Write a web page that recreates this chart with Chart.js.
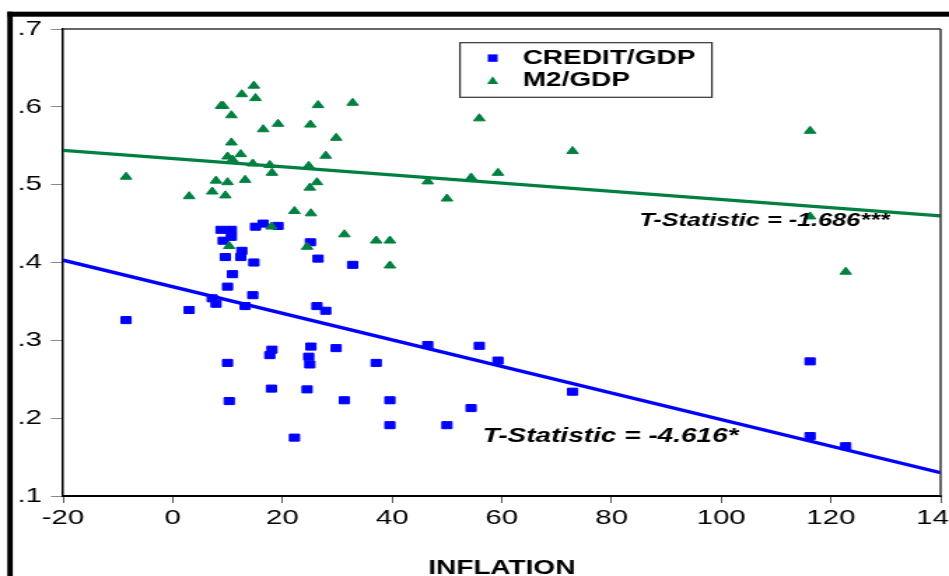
<!DOCTYPE html>
<html>
<head>
<meta charset="utf-8">
<title>Inflation vs Credit/GDP and M2/GDP</title>
<script src="https://cdn.jsdelivr.net/npm/chart.js@4.4.0/dist/chart.umd.min.js"></script>
<style>
  html, body { margin: 0; padding: 0; background: #fff; overflow: hidden; }
  /* the original graph is stretched sideways, so draw narrow and widen */
  #wrap { width: 678px; height: 576px; transform: scaleX(1.39971); transform-origin: 0 0; }
</style>
</head>
<body>
<div id="wrap"><canvas id="scatterChart" width="678" height="576"></canvas></div>
<script>
// one inflation value per observation, both ratios share it
const inflation = [-8.5, 3.0, 7.2, 7.9, 13.2, 10.0, 10.0, 10.9, 14.6, 9.6, 12.4, 12.6, 14.8, 9.2, 8.8, 10.7,
  10.7, 15.1, 16.5, 19.2, 25.1, 26.5, 32.8, 26.3, 27.9, 18.1, 17.7, 25.2, 24.8, 25.0, 29.8, 37.1,
  18.0, 24.5, 10.3, 31.3, 22.2, 39.6, 39.6, 50.0, 54.4, 46.5, 55.9, 59.3, 72.9, 116.2, 116.2, 122.7];
const creditGdp = [0.326, 0.339, 0.354, 0.347, 0.344, 0.369, 0.271, 0.385, 0.358, 0.407, 0.407, 0.415, 0.400, 0.428, 0.442, 0.442,
  0.433, 0.446, 0.450, 0.447, 0.426, 0.405, 0.397, 0.344, 0.338, 0.288, 0.281, 0.292, 0.279, 0.269, 0.290, 0.271,
  0.238, 0.237, 0.222, 0.223, 0.175, 0.223, 0.191, 0.191, 0.213, 0.294, 0.293, 0.274, 0.234, 0.273, 0.177, 0.164];
const m2Gdp = [0.510, 0.485, 0.491, 0.505, 0.506, 0.503, 0.536, 0.532, 0.527, 0.486, 0.539, 0.616, 0.627, 0.601, 0.601, 0.589,
  0.554, 0.611, 0.571, 0.578, 0.577, 0.602, 0.605, 0.503, 0.537, 0.515, 0.525, 0.463, 0.524, 0.496, 0.560, 0.428,
  0.446, 0.420, 0.421, 0.436, 0.466, 0.428, 0.396, 0.482, 0.509, 0.504, 0.585, 0.515, 0.543, 0.569, 0.459, 0.388];

// fitted lines, read at both ends of the x range
const fitX = [-20, 140];
const creditFit = [0.403, 0.130];
const m2Fit = [0.544, 0.460];

const xTicks = [-20, 0, 20, 40, 60, 80, 100, 120, 140];
const yTicks = [0.1, 0.2, 0.3, 0.4, 0.5, 0.6, 0.7];
const seriesLabels = ['CREDIT/GDP', 'M2/GDP'];
const tStatLabels = ['T-Statistic = -4.616*', 'T-Statistic = -1.686***'];

const BLUE = '#0000ff';
const GREEN = '#008040';
const FONT = '"Liberation Sans", Arial, sans-serif';

const toPoints = (xs, ys) => xs.map((x, i) => ({ x: x, y: ys[i] }));

// where the t-statistics sit, in data units
const tStatPos = [{ x: 56.5, y: 0.177, size: 20 }, { x: 85.1, y: 0.453, size: 18 }];

const framePlugin = {
  id: 'frame',
  beforeDraw(chart) {
    const ctx = chart.ctx;
    ctx.save();
    ctx.fillStyle = '#fff';
    ctx.fillRect(0, 0, chart.width, chart.height);
    ctx.fillStyle = '#000';
    ctx.fillRect(5.2, 11.7, chart.width, 5);
    ctx.fillRect(5.2, 11.7, 3.9, chart.height);
    ctx.restore();
  },
  afterDraw(chart) {
    const ctx = chart.ctx;
    const a = chart.chartArea;
    const x = chart.scales.x;
    const y = chart.scales.y;
    ctx.save();

    // top and right edge of the plot box
    ctx.strokeStyle = '#333';
    ctx.lineWidth = 1.3;
    ctx.beginPath();
    ctx.moveTo(a.left, a.top);
    ctx.lineTo(a.right, a.top);
    ctx.stroke();
    ctx.lineWidth = 1.5;
    ctx.beginPath();
    ctx.moveTo(a.right, a.top);
    ctx.lineTo(a.right, a.bottom);
    ctx.stroke();

    // legend
    ctx.lineWidth = 1.2;
    ctx.strokeRect(328.6, 42.7, 180, 54.6);
    ctx.fillStyle = BLUE;
    ctx.fillRect(348.5, 54.4, 7, 7.4);
    ctx.fillStyle = GREEN;
    ctx.beginPath();
    ctx.moveTo(352, 76.2);
    ctx.lineTo(356, 84);
    ctx.lineTo(348, 84);
    ctx.closePath();
    ctx.fill();
    ctx.fillStyle = '#000';
    ctx.font = 'bold 20px ' + FONT;
    ctx.textBaseline = 'middle';
    ctx.textAlign = 'left';
    ctx.fillText(chart.data.datasets[0].label, 373.4, 58.5);
    ctx.fillText(chart.data.datasets[1].label, 373.4, 80.5);

    // t-statistics
    tStatLabels.forEach((t, i) => {
      const p = tStatPos[i];
      ctx.font = 'italic bold ' + p.size + 'px ' + FONT;
      ctx.fillText(t, x.getPixelForValue(p.x), y.getPixelForValue(p.y));
    });

    // axis title
    ctx.font = 'bold 20px ' + FONT;
    ctx.textAlign = 'center';
    ctx.fillText('INFLATION', (a.left + a.right) / 2, 568);
    ctx.restore();
  }
};

const ctx = document.getElementById('scatterChart').getContext('2d');
const chart = new Chart(ctx, {
  type: 'scatter',
  data: {
    datasets: [
      {
        label: seriesLabels[0],
        data: toPoints(inflation, creditGdp),
        pointStyle: 'rect',
        pointRadius: 5,
        pointBorderWidth: 1,
        backgroundColor: BLUE,
        borderColor: BLUE,
        order: 3
      },
      {
        label: seriesLabels[1],
        data: toPoints(inflation, m2Gdp),
        pointStyle: 'triangle',
        pointRadius: 4.7,
        pointBorderWidth: 1,
        backgroundColor: GREEN,
        borderColor: GREEN,
        order: 2
      },
      {
        label: 'credit fit',
        data: toPoints(fitX, creditFit),
        showLine: true,
        pointRadius: 0,
        borderColor: BLUE,
        borderWidth: 3.3,
        order: 1
      },
      {
        label: 'm2 fit',
        data: toPoints(fitX, m2Fit),
        showLine: true,
        pointRadius: 0,
        borderColor: GREEN,
        borderWidth: 3.3,
        order: 1
      }
    ]
  },
  options: {
    responsive: false,
    animation: false,
    devicePixelRatio: 1,
    layout: { padding: { left: 0, right: 6, top: 29, bottom: 0 } },
    plugins: {
      legend: { display: false },
      tooltip: { enabled: false }
    },
    scales: {
      x: {
        type: 'linear',
        min: -20,
        max: 140,
        afterBuildTicks: (s) => { s.ticks = xTicks.map(v => ({ value: v })); },
        afterFit: (s) => { s.height = 80; s.paddingLeft = 0; s.paddingRight = 0; },
        grid: { drawOnChartArea: false, drawTicks: true, tickLength: 7, color: '#555', lineWidth: 1 },
        border: { display: true, color: '#000', width: 2 },
        ticks: {
          color: '#000',
          padding: 3,
          maxRotation: 0,
          autoSkip: false,
          font: { family: FONT, size: 21 }
        }
      },
      y: {
        type: 'linear',
        min: 0.1,
        max: 0.7,
        afterBuildTicks: (s) => { s.ticks = yTicks.map(v => ({ value: v })); },
        afterFit: (s) => { s.width = 45; s.paddingTop = 0; s.paddingBottom = 0; },
        grid: { drawOnChartArea: false, drawTicks: true, tickLength: 8.6, color: '#888', lineWidth: 1 },
        border: { display: true, color: '#000', width: 1.5 },
        ticks: {
          color: '#000',
          padding: 6.4,
          font: { family: FONT, size: 21 },
          callback: (v) => v.toFixed(1).replace(/^0/, '')
        }
      }
    }
  },
  plugins: [framePlugin]
});
</script>
</body>
</html>
